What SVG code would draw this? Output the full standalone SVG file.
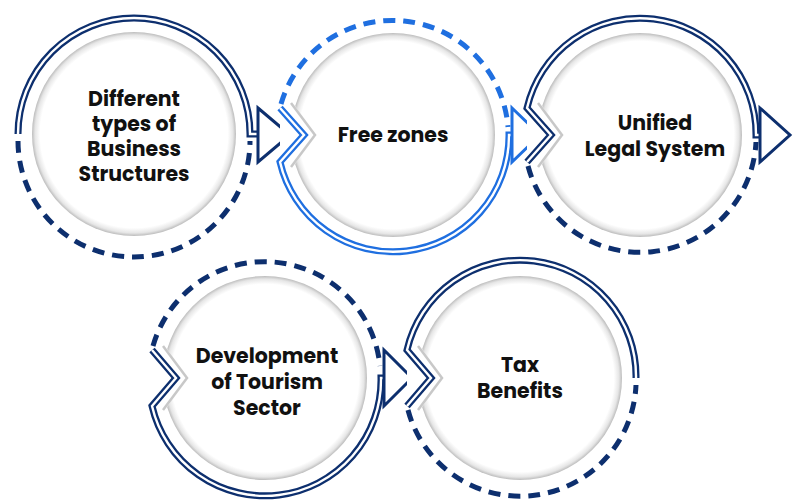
<svg xmlns="http://www.w3.org/2000/svg" width="806" height="504" viewBox="0 0 806 504">
<defs>
<radialGradient id="g" cx="0.5" cy="0.5" r="0.5">
<stop offset="0.92" stop-color="#ffffff"/>
<stop offset="0.97" stop-color="#e6e6e6"/>
<stop offset="1" stop-color="#bcbcbc"/>
</radialGradient>
</defs>
<style>
.in{fill:url(#g)}
.nf{fill:#fff;stroke:none}
.nl{fill:none;stroke:#c8c8c8;stroke-width:2.5;stroke-linejoin:miter}
.s{fill:none;stroke:#0d2f6e;stroke-width:7;stroke-linejoin:miter}
.sw{fill:none;stroke:#fff;stroke-width:2.4;stroke-linejoin:miter}
.d{fill:none;stroke:#0d2f6e;stroke-width:5;stroke-dasharray:12 8}
.ar{fill:#fff;stroke:#0d2f6e;stroke-width:3;stroke-linejoin:miter}
.b .s,.b .d{stroke:#1f6fe0}
.b .ar{stroke:#1f6fe0}
text{font-family:"Poppins","Open Sans","DejaVu Sans",sans-serif;font-weight:700;font-size:20.5px;fill:#111;text-anchor:middle}
</style>
<g id="node1">
<circle class="in" cx="134" cy="134" r="102"/>
<path class="d" d="M18,141 A116 116 0 0 0 250,141"/>
<path class="s" d="M18,134 A116 116 0 0 1 250,134 L258,134"/>
<path class="sw" d="M18,134 A116 116 0 0 1 250,134 L258,134"/>
<polygon class="ar" points="258,108 290,135 258,162"/>
<text x="134" y="106">Different</text>
<text x="134" y="131">types of</text>
<text x="134" y="156">Business</text>
<text x="134" y="181">Structures</text>
</g>
<g id="node2" class="b">
<circle class="in" cx="393" cy="135" r="102"/>
<polygon class="nf" points="280,100 291,100 315,135 291,170 280,170"/>
<polyline class="nl" points="291,103 315,135 291,167"/>
<path class="d" d="M281,104 A116 116 0 0 1 508,127"/>
<path class="s" d="M280,108 L304,135 L280,162 A116 116 0 0 0 509,135 L512,135"/>
<path class="sw" d="M280,108 L304,135 L280,162 A116 116 0 0 0 509,135 L512,135"/>
<polygon class="ar" points="512,108 540,135 512,162"/>
<text x="393" y="142">Free zones</text>
</g>
<g id="node3">
<circle class="in" cx="640" cy="135" r="102"/>
<polygon class="nf" points="527,100 538,100 562,135 538,170 527,170"/>
<polyline class="nl" points="538,103 562,135 538,167"/>
<path class="d" d="M528,166 A116 116 0 0 0 756,142"/>
<path class="s" d="M527,162 L551,135 L527,108 A116 116 0 0 1 756,135 L760,135"/>
<path class="sw" d="M527,162 L551,135 L527,108 A116 116 0 0 1 756,135 L760,135"/>
<polygon class="ar" points="760,108 790,135 760,162"/>
<text x="655" y="130">Unified</text>
<text x="655" y="156">Legal System</text>
</g>
<g id="node4">
<circle class="in" cx="265" cy="378" r="102"/>
<polygon class="nf" points="152,343 163,343 187,378 163,413 152,413"/>
<polyline class="nl" points="163,346 187,378 163,410"/>
<path class="d" d="M153,346 A116 116 0 0 1 380,366"/>
<path class="s" d="M152,350 L176,378 L152,406 A116 116 0 0 0 381,378 L384,378"/>
<path class="sw" d="M152,350 L176,378 L152,406 A116 116 0 0 0 381,378 L384,378"/>
<polygon class="ar" points="384,350 412,378 384,406"/>
<text x="267" y="363">Development</text>
<text x="267" y="389">of Tourism</text>
<text x="267" y="415">Sector</text>
</g>
<g id="node5">
<circle class="in" cx="520" cy="378" r="102"/>
<polygon class="nf" points="407,343 418,343 442,378 418,413 407,413"/>
<polyline class="nl" points="418,346 442,378 418,410"/>
<path class="d" d="M408,410 A116 116 0 0 0 636,385"/>
<path class="s" d="M407,406 L431,378 L407,350 A116 116 0 0 1 636,378"/>
<path class="sw" d="M407,406 L431,378 L407,350 A116 116 0 0 1 636,378"/>
<text x="520" y="372">Tax</text>
<text x="520" y="398">Benefits</text>
</g>
<g id="connectors"></g>
</svg>
